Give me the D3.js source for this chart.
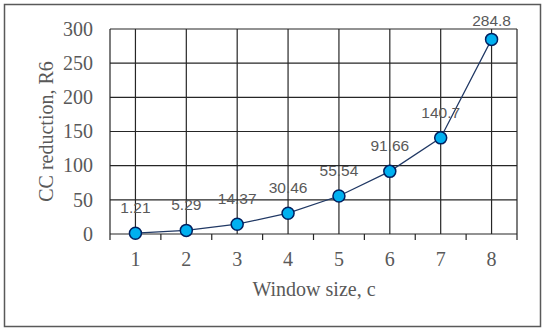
<!DOCTYPE html>
<meta charset="utf-8">
<title>CC reduction</title>
<style>
body { margin: 0; background: #fff; }
.tick-label { font-family: "Liberation Serif", serif; font-size: 20px; fill: #595959; }
.data-label { font-family: "Liberation Sans", sans-serif; font-size: 15.5px; fill: #595959; }
.grid line { stroke: #262626; stroke-width: 1.2; }
</style>
<svg width="550" height="334"></svg>
<script src="https://d3js.org/d3.v7.min.js"></script>
<script>
const windowSizes = [1, 2, 3, 4, 5, 6, 7, 8];
const reduction = [1.21, 5.29, 14.37, 30.46, 55.54, 91.66, 140.7, 284.8];
const labels = ["1.21", "5.29", "14.37", "30.46", "55.54", "91.66", "140.7", "284.8"];
const yTicks = [0, 50, 100, 150, 200, 250, 300];

const svg = d3.select("svg");
const margin = {left: 110, right: 33, top: 29, bottom: 100};
const W = 550, H = 334;

const x = d3.scaleBand().domain(windowSizes).range([margin.left, W - margin.right]);
const y = d3.scaleLinear().domain([0, 300]).range([H - margin.bottom, margin.top]);
const cx = d => x(d) + x.bandwidth() / 2;

// outer frame
svg.append("rect").attr("x", 4.5).attr("y", 4.5).attr("width", 536).attr("height", 322)
  .attr("fill", "none").attr("stroke", "#595959").attr("stroke-width", 1.5);

const grid = svg.append("g").attr("class", "grid");
grid.selectAll(".h").data(yTicks).enter().append("line")
  .attr("x1", margin.left).attr("x2", W - margin.right)
  .attr("y1", d => y(d)).attr("y2", d => y(d));
grid.selectAll(".v").data(windowSizes).enter().append("line")
  .attr("x1", cx).attr("x2", cx)
  .attr("y1", y(0)).attr("y2", y(300));
// plot box edges
grid.append("line").attr("x1", margin.left).attr("x2", margin.left).attr("y1", y(0)).attr("y2", y(300));
grid.append("line").attr("x1", W - margin.right).attr("x2", W - margin.right).attr("y1", y(0)).attr("y2", y(300));

// x tick marks at band boundaries
const bounds = windowSizes.map(d => x(d)).concat([x(windowSizes[windowSizes.length - 1]) + x.bandwidth()]);
grid.selectAll(".t").data(bounds).enter().append("line")
  .attr("x1", d => d).attr("x2", d => d)
  .attr("y1", y(0)).attr("y2", y(0) + 6);

svg.selectAll(".yl").data(yTicks).enter().append("text")
  .attr("class", "tick-label").attr("text-anchor", "end")
  .attr("x", margin.left - 17).attr("y", d => y(d) + 6.7)
  .text(d => d);

svg.selectAll(".xl").data(windowSizes).enter().append("text")
  .attr("class", "tick-label").attr("text-anchor", "middle")
  .attr("x", cx).attr("y", y(0) + 32)
  .text(d => d);

svg.append("text").attr("class", "tick-label").attr("text-anchor", "middle")
  .attr("x", 314).attr("y", 296)
  .text("Window size, c");

svg.append("text").attr("class", "tick-label").attr("text-anchor", "middle")
  .attr("transform", `translate(53,${(y(0) + y(300)) / 2}) rotate(-90)`)
  .text("CC reduction, R6");

const line = d3.line().x((d, i) => cx(windowSizes[i])).y(d => y(d));
svg.append("path").datum(reduction).attr("d", line)
  .attr("fill", "none").attr("stroke", "#203864").attr("stroke-width", 1.2);

svg.selectAll(".dot").data(reduction).enter().append("circle")
  .attr("cx", (d, i) => cx(windowSizes[i])).attr("cy", d => y(d)).attr("r", 6)
  .attr("fill", "#00b0f0").attr("stroke", "#002060").attr("stroke-width", 1.5);

// labels sit above points, kept inside the chart frame
svg.selectAll(".dl").data(reduction).enter().append("text")
  .attr("class", "data-label").attr("text-anchor", "middle")
  .attr("x", (d, i) => cx(windowSizes[i])).attr("y", d => Math.max(y(d) - 20, 25.5))
  .text((d, i) => labels[i]);
</script>
